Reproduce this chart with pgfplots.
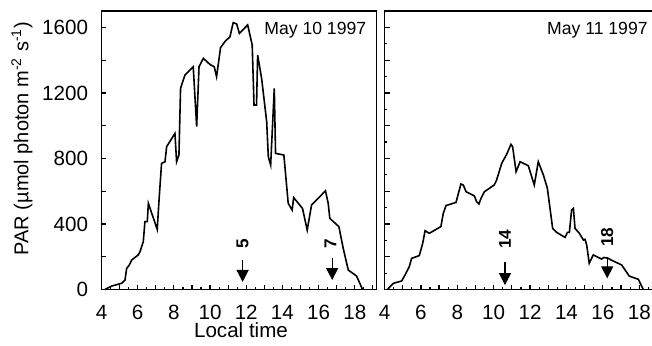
\documentclass[border=0pt]{standalone}
\usepackage{fontspec}
\setmainfont{Liberation Sans}
\usepackage{pgfplots}
\pgfplotsset{compat=1.18}
\usetikzlibrary{arrows.meta}

\pgfplotstableread{
t v
4.19 0
4.56 21
5.11 38
5.30 58
5.39 129
5.54 150
5.67 180
6.03 211
6.13 231
6.31 292
6.40 414
6.53 414
6.59 526
7.08 367
7.18 546
7.32 770
7.51 780
7.60 872
8.06 953
8.15 780
8.28 821
8.37 1228
8.61 1309
9.07 1360
9.26 994
9.39 1360
9.63 1411
9.99 1374
10.23 1360
10.36 1299
10.58 1476
10.82 1513
11.10 1543
11.28 1629
11.47 1621
11.62 1564
12.08 1615
12.33 1492
12.43 1126
12.57 1126
12.63 1431
12.85 1289
13.13 1024
13.22 811
13.35 760
13.55 1228
13.62 831
14.08 821
14.32 526
14.54 485
14.62 561
15.11 495
15.37 363
15.61 516
16.07 567
16.38 603
16.53 526
16.62 434
17.12 384
17.36 251
17.64 119
18.10 82
18.43 0
}\dayten

\pgfplotstableread{
t v
4.16 0
4.49 38
4.94 52
5.13 89
5.36 139
5.49 190
5.91 207
6.10 282
6.23 359
6.46 343
7.10 384
7.23 465
7.38 512
7.93 532
8.20 644
8.33 638
8.48 597
8.94 571
9.06 536
9.19 522
9.30 556
9.49 597
10.03 638
10.16 668
10.44 770
10.71 825
10.95 886
11.04 872
11.23 719
11.45 780
11.90 756
12.23 638
12.45 780
12.73 699
12.95 618
13.24 373
13.46 349
13.92 318
14.05 349
14.16 349
14.28 485
14.38 495
14.47 373
14.71 343
14.93 302
15.02 306
15.11 272
15.25 160
15.47 211
15.93 186
16.06 196
16.30 190
16.45 180
17.03 150
17.45 82
17.95 62
18.22 0
}\dayeleven

\pgfplotsset{
  parstyle/.style={
    scale only axis,
    anchor=south west,
    xmin=4, xmax=19.2,
    ymin=0, ymax=1700,
    axis line style={line width=0.75pt},
    tick pos=left,
    tick align=inside,
    major tick length=2.5pt,
    minor tick length=1.4pt,
    every tick/.style={line width=0.6pt, black},
    xtick={4,5,...,19},
    xticklabels={4,,6,,8,,10,,12,,14,,16,,18,},
    minor xtick={4.5,5.5,...,18.5},
    tick label style={font=\fontsize{10.3}{12}\selectfont},
    xticklabel style={yshift=-4.3pt},
    yticklabel style={xshift=-3.2pt},
    clip=false,
  },
  curve/.style={black, line width=0.8pt, no marks},
}

\begin{document}
\begin{tikzpicture}
\useasboundingbox (0,0) rectangle (326pt,172.5pt);

\begin{axis}[parstyle,
  at={(50.75pt,27.75pt)}, width=137.5pt, height=139.25pt,
  ytick={0,200,...,1600},
  yticklabels={0,,400,,800,,1200,,1600},
]
\addplot[curve] table[x=t,y=v] {\dayten};
\node[anchor=east, inner sep=0pt, font=\fontsize{8.8}{10}\selectfont] at (axis cs:18.65,1584) {May 10 1997};
\draw[line width=0.6pt, -{Triangle[length=6pt,width=6pt]}] (axis cs:11.8,180) -- (axis cs:11.8,46);
\node[rotate=90, inner sep=0pt, font=\bfseries\fontsize{8.6}{9}\selectfont] at (axis cs:11.8,278) {5};
\draw[line width=0.6pt, -{Triangle[length=6pt,width=6pt]}] (axis cs:16.75,192) -- (axis cs:16.75,58);
\node[rotate=90, inner sep=0pt, font=\bfseries\fontsize{8.6}{9}\selectfont] at (axis cs:16.65,278) {7};
\end{axis}

\begin{axis}[parstyle,
  at={(192.25pt,27.75pt)}, width=138.3pt, height=139.25pt,
  ytick={0,200,...,1600},
  minor ytick={100,300,...,1700},
  yticklabels={},
]
\addplot[curve] table[x=t,y=v] {\dayeleven};
\node[anchor=east, inner sep=0pt, font=\fontsize{8.8}{10}\selectfont] at (axis cs:18.48,1584) {May 11 1997};
\draw[line width=0.6pt, -{Triangle[length=6pt,width=6pt]}] (axis cs:10.62,170) -- (axis cs:10.62,27);
\node[rotate=90, inner sep=0pt, font=\bfseries\fontsize{8.6}{9}\selectfont] at (axis cs:10.62,308) {14};
\draw[line width=0.6pt, -{Triangle[length=6pt,width=6pt]}] (axis cs:16.24,200) -- (axis cs:16.24,68);
\node[rotate=90, inner sep=0pt, font=\bfseries\fontsize{8.6}{9}\selectfont] at (axis cs:16.24,320) {18};
\end{axis}

\node[rotate=90, font=\fontsize{10}{12}\selectfont] at (11pt,103.25pt) {PAR (µmol photon m\textsuperscript{-2} s\textsuperscript{-1})};
\node[anchor=base, inner sep=0pt, font=\fontsize{10.3}{12}\selectfont] at (120.5pt,3.8pt) {Local time};
\end{tikzpicture}
\end{document}
